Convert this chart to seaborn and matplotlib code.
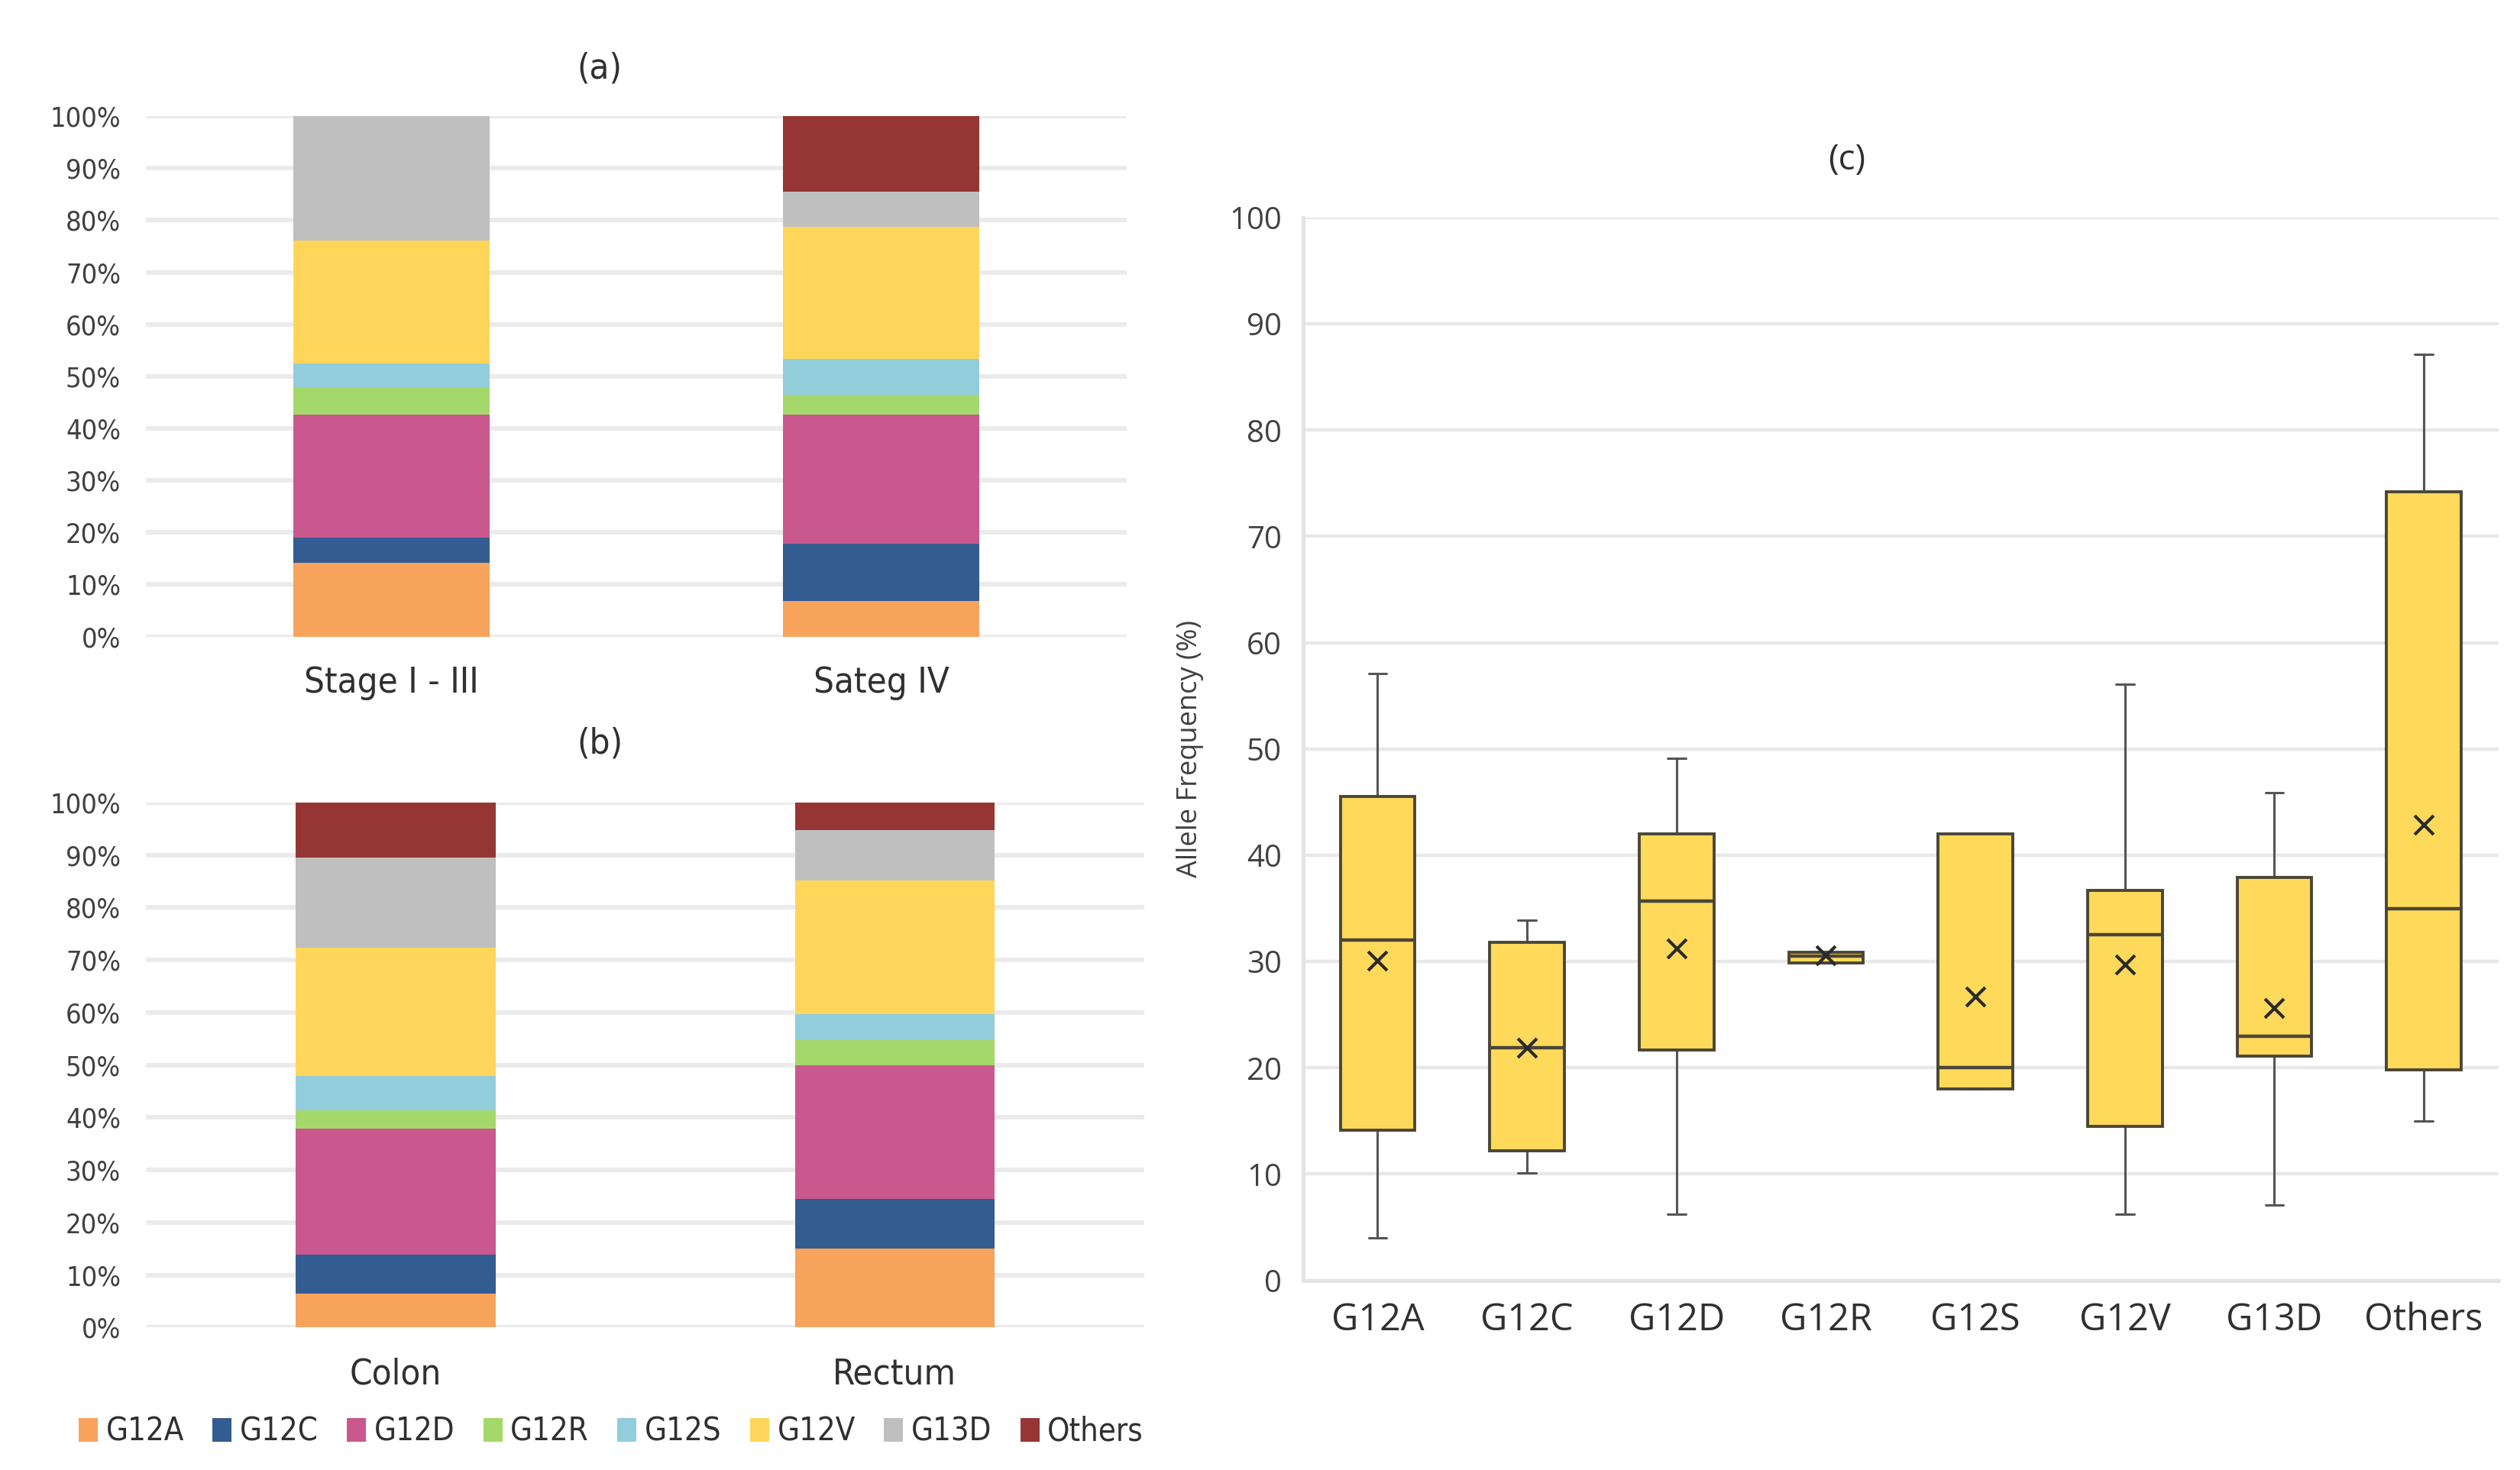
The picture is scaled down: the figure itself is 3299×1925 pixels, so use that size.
import numpy as np
import pandas as pd
import matplotlib
matplotlib.use("Agg")
import matplotlib.pyplot as plt
import seaborn as sns
from matplotlib.patches import Patch
from matplotlib.ticker import PercentFormatter

# ---------------- data ----------------
mutations = ["G12A", "G12C", "G12D", "G12R", "G12S", "G12V", "G13D", "Others"]
colors = ["#F7A35C", "#335C91", "#C9588F", "#A5D86B", "#92CDDC", "#FFD65A", "#BFBFBF", "#963634"]

stage_groups = ["Stage I - III", "Sateg IV"]
stage_I_III = [14.1, 4.9, 23.7, 5.0, 4.8, 23.6, 23.9, 0.0]
stage_IV = [6.9, 11.0, 24.8, 3.7, 7.0, 25.3, 6.8, 14.5]

site_groups = ["Colon", "Rectum"]
colon = [6.4, 7.4, 24.1, 3.5, 6.5, 24.4, 17.2, 10.5]
rectum = [15.0, 9.5, 25.5, 4.8, 4.9, 25.5, 9.5, 5.3]

# box plot summary (allele frequency %)
box_cats = ["G12A", "G12C", "G12D", "G12R", "G12S", "G12V", "G13D", "Others"]
box_min = [4.0, 10.1, 6.2, 29.9, 18.0, 6.2, 7.1, 15.0]
box_q1 = [14.1, 12.2, 21.7, 29.9, 18.0, 14.5, 21.1, 19.8]
box_med = [32.0, 21.9, 35.7, 30.5, 20.0, 32.5, 23.0, 35.0]
box_q3 = [45.5, 31.8, 42.0, 30.9, 42.0, 36.7, 37.9, 74.2]
box_max = [57.1, 33.9, 49.1, 30.9, 42.0, 56.1, 45.9, 87.1]
box_mean = [30.1, 21.9, 31.2, 30.6, 26.7, 29.7, 25.6, 42.9]

# ---------------- style ----------------
sns.set_theme(style="white")
narrow = ["DejaVu Sans Condensed", "Liberation Sans Narrow", "DejaVu Sans"]
plt.rcParams["font.family"] = narrow
plt.rcParams["font.stretch"] = "condensed"
wide = ["Open Sans", "DejaVu Sans"]

W, H, DPI = 3299, 1925, 200
fig = plt.figure(figsize=(W / DPI, H / DPI), dpi=DPI)

def stacked(ax, groups, series_a, series_b):
    df = pd.DataFrame({"group": np.repeat(groups, len(mutations)),
                       "mutation": mutations * 2,
                       "value": list(series_a) + list(series_b)})
    bottoms = {g: 0.0 for g in groups}
    for m, c in zip(mutations, colors):
        sub = df[df["mutation"] == m]
        bot = [bottoms[g] for g in sub["group"]]
        sns.barplot(data=sub, x="group", y="value", order=groups, color=c,
                    width=0.4, bottom=bot, ax=ax, saturation=1, linewidth=0,
                    zorder=3)
        for g, v in zip(sub["group"], sub["value"]):
            bottoms[g] += v
    ax.set_ylim(0, 100)
    ax.set_xlim(-0.5, 1.5)
    ax.set_yticks(np.arange(0, 101, 10))
    ax.yaxis.set_major_formatter(PercentFormatter(decimals=0))
    ax.grid(axis="y", color="#EBEBEB", linewidth=2.2, zorder=0)
    ax.grid(axis="x", visible=False)
    for s in ax.spines.values():
        s.set_visible(False)
    ax.set_xlabel("")
    ax.set_ylabel("")
    ax.tick_params(axis="y", labelsize=13, colors="#404040", pad=12, length=0)
    ax.tick_params(axis="x", labelsize=17, colors="#303030", pad=14, length=0)

# panel (a)
ax_a = fig.add_axes([0.058, 0.567, 0.389, 0.354])
stacked(ax_a, stage_groups, stage_I_III, stage_IV)
fig.text(0.238, 0.953, "(a)", ha="center", va="center", fontsize=17, color="#303030")

# panel (b)
ax_b = fig.add_axes([0.058, 0.097, 0.396, 0.357])
stacked(ax_b, site_groups, colon, rectum)
fig.text(0.238, 0.494, "(b)", ha="center", va="center", fontsize=17, color="#303030")

handles = [Patch(facecolor=c, edgecolor="none", label=m) for m, c in zip(mutations, colors)]
fig.legend(handles=handles, loc="center", bbox_to_anchor=(0.2425, 0.026), ncol=8,
           frameon=False, fontsize=15, handlelength=0.6, handleheight=0.8,
           handletextpad=0.25, columnspacing=0.9, labelcolor="#303030")

# panel (c)
ax_c = fig.add_axes([0.517, 0.129, 0.4745, 0.723])
rows = []
for cat, a, b, c, d, e in zip(box_cats, box_min, box_q1, box_med, box_q3, box_max):
    for v in (a, b, c, d, e):
        rows.append({"cat": cat, "val": v})
bdf = pd.DataFrame(rows)
edge = "#4A4638"
sns.boxplot(data=bdf, x="cat", y="val", order=box_cats, color="#FFD95A",
            saturation=1, width=0.5, whis=np.inf, ax=ax_c, fliersize=0,
            linecolor=edge, linewidth=1.4,
            boxprops=dict(zorder=3), medianprops=dict(color=edge, linewidth=1.6, zorder=4),
            whiskerprops=dict(color="#555555", linewidth=1.1),
            capprops=dict(color="#555555", linewidth=1.1), capwidths=0.12)
mdf = pd.DataFrame({"cat": box_cats, "mean": box_mean})
sns.scatterplot(data=mdf, x="cat", y="mean", marker="x", s=80, color="#2A2A2A",
                linewidth=1.5, ax=ax_c, zorder=6, legend=False)
ax_c.set_xlim(-0.5, 7.5)
ax_c.set_ylim(0, 100)
ax_c.set_yticks(np.arange(0, 101, 10))
ax_c.grid(axis="y", color="#E8E8E8", linewidth=1.6, zorder=0)
ax_c.grid(axis="x", visible=False)
for s in ["top", "right"]:
    ax_c.spines[s].set_visible(False)
for s in ["left", "bottom"]:
    ax_c.spines[s].set_color("#E3E3E3")
    ax_c.spines[s].set_linewidth(1.8)
ax_c.set_xlabel("")
ax_c.set_ylabel("Allele Frequency (%)", fontsize=13, color="#404040",
                family=wide, stretch="normal", labelpad=12)
for lab in ax_c.get_yticklabels() + ax_c.get_xticklabels():
    lab.set_family(wide)
    lab.set_stretch("normal")
ax_c.tick_params(axis="y", labelsize=14.5, colors="#404040", pad=10, length=0)
ax_c.tick_params(axis="x", labelsize=17.5, colors="#303030", pad=10, length=0)
fig.text(0.733, 0.891, "(c)", ha="center", va="center", fontsize=16.5,
         color="#303030", family=wide, stretch="normal")

fig.savefig("out.png", dpi=DPI, facecolor="white")
